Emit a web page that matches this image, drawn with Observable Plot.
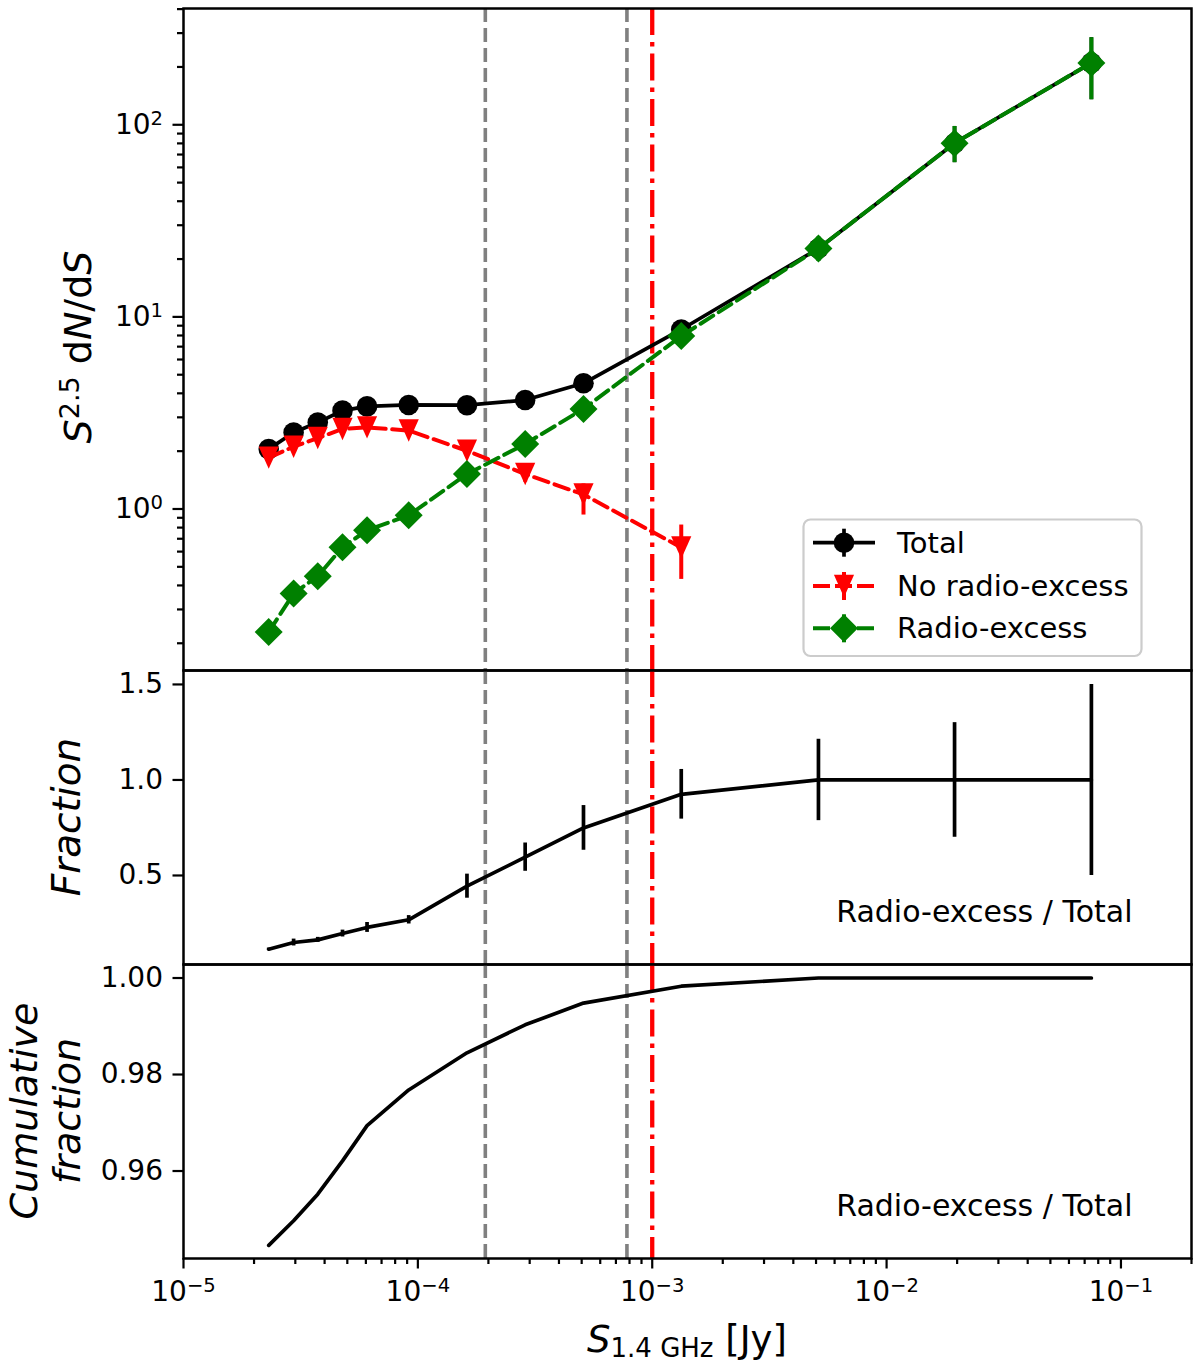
<!DOCTYPE html>
<html>
<head>
<meta charset="utf-8">
<script src="https://cdn.jsdelivr.net/npm/d3@7"></script>
<script src="https://cdn.jsdelivr.net/npm/@observablehq/plot@0.6"></script>
<style>
  body { margin: 0; background: #fff; }
  #chart { width: 1200px; font-family: "DejaVu Sans", sans-serif; }
  #chart svg { display: block; overflow: visible; }
</style>
</head>
<body>
<div id="chart"></div>
<script>
// flux bin centres, S_1.4GHz [Jy]
const flux = [2.31e-5, 2.95e-5, 3.74e-5, 4.77e-5, 6.07e-5, 9.14e-5, 1.62e-4, 2.87e-4, 5.09e-4, 1.33e-3, 5.12e-3, 1.95e-2, 7.48e-2];

// S^2.5 dN/dS
const totalCounts = [2.05, 2.50, 2.82, 3.25, 3.42, 3.48, 3.47, 3.69, 4.51, 8.6, 22.7, 80.2, 210];
const totalLo     = [1.98, 2.41, 2.72, 3.14, 3.30, 3.36, 3.33, 3.52, 4.25, 7.8, 19.5, 63.5, 135];
const totalHi     = [2.12, 2.59, 2.92, 3.36, 3.54, 3.60, 3.61, 3.86, 4.77, 9.5, 26, 98, 284];

const noExcessCounts = [1.85, 2.11, 2.34, 2.61, 2.66, 2.56, 2.01, 1.52, 1.19, 0.63];
const noExcessLo     = [1.77, 2.01, 2.22, 2.48, 2.52, 2.41, 1.86, 1.38, 0.93, 0.43];
const noExcessHi     = [1.93, 2.21, 2.46, 2.74, 2.80, 2.71, 2.17, 1.67, 1.35, 0.825];

const excessCounts = [0.229, 0.363, 0.447, 0.633, 0.774, 0.927, 1.52, 2.18, 3.32, 7.95, 22.7, 80.2, 210];
const excessLo     = [0.205, 0.335, 0.415, 0.590, 0.725, 0.870, 1.42, 2.04, 3.10, 7.2, 19.5, 63.5, 135];
const excessHi     = [0.255, 0.390, 0.480, 0.675, 0.825, 0.985, 1.62, 2.32, 3.55, 8.7, 26, 98, 284];

// radio-excess / total
const fraction    = [0.114, 0.149, 0.163, 0.196, 0.228, 0.268, 0.444, 0.596, 0.749, 0.925, 1.0, 1.0, 1.0];
const fractionErr = [0.006, 0.018, 0.013, 0.018, 0.026, 0.022, 0.063, 0.074, 0.117, 0.13, 0.213, 0.30, 0.5];
const cumFraction = [0.9446, 0.9497, 0.9552, 0.9621, 0.9694, 0.9768, 0.9845, 0.9903, 0.9948, 0.9983, 1.0, 1.0, 1.0];

const cutLines = [1.94e-4, 7.8e-4];
const limitLine = [1e-3];

const xMajor = [1e-5, 1e-4, 1e-3, 1e-2, 1e-1];
const yMajorTop = [1, 10, 100];
const yTicksMid = [0.5, 1.0, 1.5];
const yTicksBot = [0.96, 0.98, 1.00];

const seriesNames = ["Total", "No radio-excess", "Radio-excess"];
const seriesColors = ["black", "red", "green"];
const annotation = "Radio-excess / Total";

// ---- helpers ----
const W = 1200, ML = 183, MR = 9;
const xDomain = [1e-5, 0.2];
const font = "DejaVu Sans";
const TICK_FS = 28;

const supChars = "⁻⁰¹²³⁴⁵⁶⁷⁸⁹";
const sup = s => String(s).replace(/[-0-9]/g, c => supChars["-0123456789".indexOf(c)]);
const unsup = s => s.replace(/[⁻⁰¹²³⁴⁵⁶⁷⁸⁹]/g, c => "−0123456789"[supChars.indexOf(c)]);
const pow10 = v => "10" + sup(Math.round(Math.log10(v)));

function minorTicks(lo, hi) {
  const t = [];
  for (let e = Math.floor(Math.log10(lo)); e <= Math.ceil(Math.log10(hi)); e++) {
    for (let m = 2; m <= 9; m++) {
      const v = +(m * Math.pow(10, e)).toPrecision(6);
      if (v >= lo && v <= hi * 1.001) t.push(v);
    }
  }
  return t;
}

// matplotlib-like markers
const triDown = {draw(ctx, size) { const a = Math.sqrt(size / Math.PI); ctx.moveTo(0, a); ctx.lineTo(-0.9 * a, -a); ctx.lineTo(0.9 * a, -a); ctx.closePath(); }};
const diamond = {draw(ctx, size) { const a = Math.sqrt(size / Math.PI); ctx.moveTo(0, -a); ctx.lineTo(a, 0); ctx.lineTo(0, a); ctx.lineTo(-a, 0); ctx.closePath(); }};
const markers = [{symbol: "circle", r: 10.3}, {symbol: triDown, r: 11.2}, {symbol: diamond, r: 14}];
const dashes = [null, "15,6.5", "15,6.5"];
const widths = [3.7, 4, 4];

const rows = (ys, lo, hi) => ys.map((y, i) => ({x: flux[i], y, lo: lo[i], hi: hi[i]}));
const series = [
  rows(totalCounts, totalLo, totalHi),
  rows(noExcessCounts, noExcessLo, noExcessHi),
  rows(excessCounts, excessLo, excessHi)
];

const LW = 3.7;
const refLines = () => [
  Plot.ruleX(cutLines, {stroke: "#808080", strokeWidth: 3.6, strokeDasharray: "14,6"}),
  Plot.ruleX(limitLine, {stroke: "red", strokeWidth: 4.3, strokeDasharray: "27,7,4.5,7"})
];
const style = {fontFamily: font, fontSize: TICK_FS + "px", background: "transparent", overflow: "visible"};
const tickOpts = {strokeWidth: 2.2, label: null};
const frame = () => Plot.frame({stroke: "black", strokeWidth: 2.5});

// ---- top panel ----
const topMarks = [];
series.forEach((data, k) => {
  topMarks.push(
    Plot.ruleX(data, {x: "x", y1: "lo", y2: "hi", stroke: seriesColors[k], strokeWidth: widths[k]}),
    Plot.line(data, {x: "x", y: "y", stroke: seriesColors[k], strokeWidth: widths[k], strokeDasharray: dashes[k]}),
    Plot.dot(data, {x: "x", y: "y", r: markers[k].r, symbol: markers[k].symbol, fill: seriesColors[k], stroke: "none"})
  );
});

const yTopDomain = [0.1443, 403];
const topPlot = Plot.plot({
  width: W, height: 670, marginLeft: ML, marginRight: MR, marginTop: 8, marginBottom: 0,
  style,
  x: {type: "log", domain: xDomain, axis: null},
  y: {type: "log", domain: yTopDomain, label: null},
  marks: [
    ...refLines(),
    ...topMarks,
    Plot.axisY({...tickOpts, ticks: minorTicks(...yTopDomain), tickSize: 6, tickFormat: () => ""}),
    Plot.axisY({...tickOpts, ticks: yMajorTop, tickSize: 10.5, tickPadding: 10, tickFormat: pow10, fontSize: TICK_FS}),
    frame()
  ]
});

// ---- middle panel ----
const fracRows = fraction.map((y, i) => ({x: flux[i], y, lo: y - fractionErr[i], hi: y + fractionErr[i]}));
const annot = () => Plot.text([annotation], {text: d => d, frameAnchor: "bottom-right", dx: -59, dy: -52.6,
  textAnchor: "end", lineAnchor: "middle", fontSize: 30});

const midPlot = Plot.plot({
  width: W, height: 294, marginLeft: ML, marginRight: MR, marginTop: 0, marginBottom: 0,
  style,
  x: {type: "log", domain: xDomain, axis: null},
  y: {domain: [0.034, 1.573], label: null},
  marks: [
    ...refLines(),
    Plot.ruleX(fracRows, {x: "x", y1: "lo", y2: "hi", stroke: "black", strokeWidth: LW}),
    Plot.line(fracRows, {x: "x", y: "y", stroke: "black", strokeWidth: LW}),
    annot(),
    Plot.axisY({...tickOpts, ticks: yTicksMid, tickSize: 10.5, tickPadding: 10, tickFormat: d3.format(".1f"), fontSize: TICK_FS}),
    frame()
  ]
});

// ---- bottom panel ----
const cumRows = cumFraction.map((y, i) => ({x: flux[i], y}));
const botPlot = Plot.plot({
  width: W, height: 400, marginLeft: ML, marginRight: MR, marginTop: 0, marginBottom: 106,
  style,
  x: {type: "log", domain: xDomain, label: null},
  y: {domain: [0.94187, 1.0028], label: null},
  marks: [
    ...refLines(),
    Plot.line(cumRows, {x: "x", y: "y", stroke: "black", strokeWidth: LW}),
    annot(),
    Plot.axisY({...tickOpts, ticks: yTicksBot, tickSize: 10.5, tickPadding: 10, tickFormat: d3.format(".2f"), fontSize: TICK_FS}),
    Plot.axisX({...tickOpts, ticks: minorTicks(...xDomain), tickSize: 6, tickFormat: () => ""}),
    Plot.axisX({...tickOpts, ticks: xMajor, tickSize: 10.5, tickPadding: 12.3, tickFormat: pow10, fontSize: TICK_FS}),
    frame()
  ]
});

const chart = document.getElementById("chart");
chart.append(topPlot, midPlot, botPlot);

// power-of-ten tick labels: rebuild exponent as a raised, smaller tspan
d3.selectAll("#chart svg text").each(function () {
  const s = this.textContent;
  if (!/^10[⁻⁰¹²³⁴⁵⁶⁷⁸⁹]+$/.test(s)) return;
  this.textContent = "10";
  d3.select(this).append("tspan").attr("font-size", TICK_FS * 0.7).attr("dy", -9).text(unsup(s.slice(2)));
});

// ---- axis titles (rich text) ----
function title(svg, x, y, parts, size, rotate) {
  const t = d3.select(svg).append("text")
    .attr("transform", `translate(${x},${y})` + (rotate ? ` rotate(${rotate})` : ""))
    .attr("text-anchor", "middle").attr("font-family", font).attr("font-size", size).attr("fill", "black");
  parts.forEach(p => {
    const s = t.append("tspan").text(p.t);
    if (p.i) s.attr("font-style", "italic");
    if (p.size) s.attr("font-size", p.size);
    if (p.dy) s.attr("dy", p.dy);
  });
  return t;
}
title(topPlot, 91, 347, [
  {t: "S", i: true}, {t: "2.5", size: 27, dy: -12}, {t: " d", dy: 12}, {t: "N", i: true}, {t: "/d"}, {t: "S", i: true}
], 38, -90);
title(midPlot, 80, 147, [{t: "Fraction", i: true}], 39, -90);
title(botPlot, 37, 147, [{t: "Cumulative", i: true}], 38, -90);
title(botPlot, 80, 147, [{t: "fraction", i: true}], 38, -90);
title(botPlot, 687, 387.7, [
  {t: "S", i: true}, {t: "1.4 GHz", size: 26, dy: 5}, {t: " [Jy]", dy: -5}
], 37, 0);

// ---- legend ----
const lg = d3.select(topPlot).append("g").attr("text-anchor", "start");
lg.append("rect").attr("x", 803.5).attr("y", 519.5).attr("width", 338).attr("height", 136.5).attr("rx", 7)
  .attr("fill", "white").attr("fill-opacity", 0.8).attr("stroke", "#cccccc").attr("stroke-width", 2.2);
const rowY = [542.7, 586, 628.3];
seriesNames.forEach((name, k) => {
  const y = rowY[k];
  lg.append("line").attr("x1", 813).attr("x2", 875).attr("y1", y).attr("y2", y)
    .attr("stroke", seriesColors[k]).attr("stroke-width", widths[k]).attr("stroke-dasharray", k ? "17,5" : null);
  lg.append("line").attr("x1", 844).attr("x2", 844).attr("y1", y - 14).attr("y2", y + 14)
    .attr("stroke", seriesColors[k]).attr("stroke-width", widths[k]);
  const m = markers[k];
  const sym = m.symbol === "circle" ? d3.symbolCircle : m.symbol;
  lg.append("path").attr("transform", `translate(844,${y})`)
    .attr("d", d3.symbol(sym, m.r * m.r * Math.PI)()).attr("fill", seriesColors[k]);
  lg.append("text").attr("x", 897).attr("y", y).attr("dy", "0.35em").attr("text-anchor", "start")
    .attr("font-family", font).attr("font-size", 29).attr("fill", "black").text(name);
});
</script>
</body>
</html>
